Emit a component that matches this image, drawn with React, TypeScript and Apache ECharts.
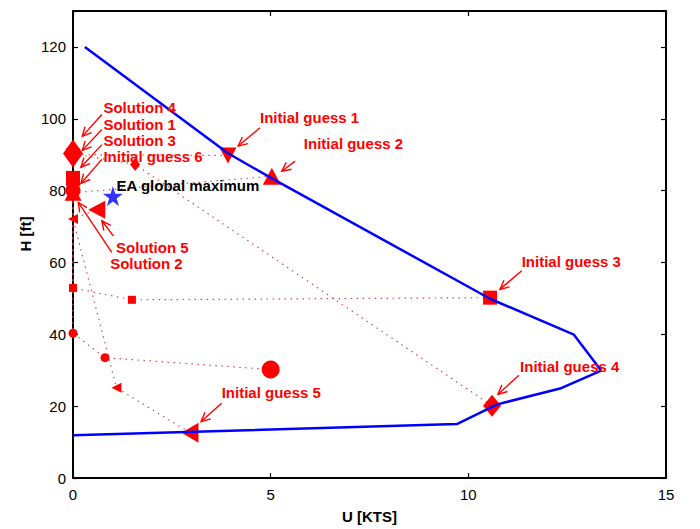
import React, { useEffect, useRef } from 'react';
import * as echarts from 'echarts';

// ---- data (U [KTS], H [ft]) ----
const boundary: number[][] = [
  [0.3, 120], [3.92, 90.4], [5.03, 83.4], [10.55, 49.9], [12.67, 39.9], [13.36, 29.9],
  [12.32, 24.9], [10.73, 20.5], [9.71, 15.0], [0, 11.9],
];

const initialGuesses: number[][] = [
  [3.92, 89.8], // 1 triangle down
  [5.03, 84.0], // 2 triangle up
  [10.55, 50.2], // 3 square
  [10.6, 20.1], // 4 diamond
  [2.96, 12.6], // 5 triangle left
  [5.0, 30.2], // 6 circle
];

const solutions: number[][] = [
  [0, 90.0], // 1 triangle down
  [0, 79.4], // 2 triangle up
  [0, 83.4], // 3 square
  [0, 90.3], // 4 diamond
  [0.6, 74.7], // 5 triangle left
  [0, 80.0], // 6 circle
];

const squareMid: number[][] = [[1.49, 49.6], [0, 52.9]];
const diamondMid: number[][] = [[1.57, 87.3]];
const circleMid: number[][] = [[0.81, 33.5], [0, 40.3]];
const triLeftMid: number[][] = [[1.1, 25.1], [0, 72.1]];

const eaMaximum: number[] = [1.01, 78.5];

const paths: number[][][] = [
  [initialGuesses[0], solutions[0]],
  [initialGuesses[1], solutions[1]],
  [initialGuesses[2], ...squareMid, solutions[2]],
  [initialGuesses[3], ...diamondMid, solutions[3]],
  [initialGuesses[4], ...triLeftMid, solutions[4]],
  [initialGuesses[5], ...circleMid, solutions[5]],
];

const xTicks = { min: 0, max: 15, interval: 5 };
const yTicks = { min: 0, max: 130, interval: 20 };

// annotations: text, label anchor (left-middle), arrow tail, arrow head
const labelTexts: string[] = [
  'Initial guess 1', 'Initial guess 2', 'Initial guess 3', 'Initial guess 4',
  'Initial guess 5', 'Solution 4', 'Solution 1', 'Solution 3', 'Initial guess 6',
  'Solution 5', 'Solution 2', 'EA global maximum',
];
const labelAnchors: number[][] = [
  [4.73, 100.3], [5.84, 93.1], [11.35, 60.2], [11.31, 31.1],
  [3.76, 23.8], [0.77, 103.1], [0.77, 98.5], [0.77, 94.0], [0.77, 89.4],
  [1.09, 64.3], [0.94, 59.8], [1.1, 81.3],
];
const arrowTails: (number[] | null)[] = [
  [4.73, 97.5], [5.62, 88.2], [11.35, 57.7], [11.28, 28.6],
  [3.76, 20.8], [0.73, 101.2], [0.73, 97.0], [0.73, 92.8], [0.73, 88.7],
  [1.02, 67.4], [0.98, 62.8], null,
];
const arrowHeads: (number[] | null)[] = [
  [4.18, 92.4], [5.28, 85.4], [10.8, 52.5], [10.75, 23.3],
  [3.24, 15.7], [0.235, 95.1], [0.235, 91.2], [0.2, 86.5], [0.2, 82.0],
  [0.73, 71.6], [0.134, 76.7], null,
];

// ---- styles ----
const FONT = '"Liberation Sans", Arial, Helvetica, sans-serif';
const RED = '#ff0000';
const BLUE = '#0000ff';
const TRI_UP = 'path://M5,0 L10,10 L0,10 Z';
const TRI_DOWN = 'path://M0,0 L10,0 L5,10 Z';
const TRI_LEFT = 'path://M0,5 L10,0 L10,10 Z';
const STAR = 'path://M50,0 L61,35 L98,35 L68,57 L79,91 L50,70 L21,91 L32,57 L2,35 L39,35 Z';

function marker(data: number[][], symbol: string, size: number | number[], z = 3) {
  return {
    type: 'scatter',
    data,
    symbol,
    symbolSize: size,
    itemStyle: { color: RED, opacity: 1 },
    z,
    clip: false,
    silent: true,
  };
}

function buildOption() {
  const dotted = paths.map((p) => ({
    type: 'line',
    data: p,
    showSymbol: false,
    symbol: 'none',
    lineStyle: { color: '#d94848', width: 1.2, type: [1.5, 4.5] },
    z: 1,
    clip: false,
    silent: true,
  }));

  const axisCommon = {
    axisLine: { show: true, onZero: false, lineStyle: { color: '#000', width: 2 } },
    axisTick: { show: true, inside: true, length: 5, lineStyle: { color: '#000', width: 1.2 } },
    splitLine: { show: false },
  };

  return {
    animation: false,
    backgroundColor: '#fff',
    grid: { left: 73, right: 34, top: 11, bottom: 49 },
    xAxis: [
      {
        type: 'value', position: 'bottom', ...xTicks, ...axisCommon,
        axisLabel: { color: '#000', fontSize: 15, fontFamily: FONT, margin: 9 },
        name: 'U [KTS]', nameLocation: 'middle', nameGap: 31,
        nameTextStyle: { color: '#000', fontSize: 15, fontWeight: 'bold', fontFamily: FONT },
      },
      {
        type: 'value', position: 'top', ...xTicks, ...axisCommon,
        axisLabel: { show: false },
      },
    ],
    yAxis: [
      {
        type: 'value', position: 'left', ...yTicks, ...axisCommon,
        axisLabel: {
          color: '#000', fontSize: 15, fontFamily: FONT, margin: 7,
          formatter: (v: number) => (v > 125 ? '' : String(v)),
        },
      },
      {
        type: 'value', position: 'right', ...yTicks, ...axisCommon,
        axisLabel: { show: false },
      },
    ],
    graphic: [
      {
        type: 'text', x: 25, y: 234, rotation: Math.PI / 2,
        style: {
          text: 'H [ft]', fill: '#000', font: `bold 15px ${FONT}`,
          textAlign: 'center', textVerticalAlign: 'middle', align: 'center', verticalAlign: 'middle',
        },
      },
    ],
    series: [
      ...dotted,
      // intermediates
      marker(squareMid, 'rect', 8),
      marker(diamondMid, 'diamond', [10, 13]),
      marker(circleMid, 'circle', 9),
      marker(triLeftMid, TRI_LEFT, [10, 10]),
      // initial guesses
      marker([initialGuesses[0]], TRI_DOWN, [17, 16]),
      marker([initialGuesses[1]], TRI_UP, [18, 17]),
      marker([initialGuesses[2]], 'rect', 14),
      marker([initialGuesses[3]], 'diamond', [18, 22]),
      marker([initialGuesses[4]], TRI_LEFT, [17, 20]),
      marker([initialGuesses[5]], 'circle', 18),
      // solutions
      marker([solutions[0]], TRI_DOWN, [14, 13]),
      marker([solutions[3]], 'diamond', [20, 28]),
      marker([solutions[5]], 'circle', 15),
      marker([solutions[1]], TRI_UP, [17, 16]),
      marker([solutions[2]], 'rect', [14, 15]),
      marker([solutions[4]], TRI_LEFT, [17, 18]),
      // boundary
      {
        type: 'line',
        data: boundary,
        showSymbol: false,
        symbol: 'none',
        lineStyle: { color: BLUE, width: 2.5 },
        z: 4,
        clip: false,
        silent: true,
      },
      {
        type: 'scatter',
        data: [eaMaximum],
        symbol: STAR,
        symbolSize: 20,
        itemStyle: { color: BLUE },
        z: 5,
        clip: false,
        silent: true,
      },
      {
        type: 'custom',
        data: labelAnchors.map((a) => [a[0], a[1]]),
        z: 6,
        clip: false,
        silent: true,
        renderItem: (params: any, api: any) => {
          const i = params.dataIndex;
          const text = labelTexts[i];
          const lp = api.coord(labelAnchors[i]);
          const color = text === 'EA global maximum' ? '#000' : RED;
          const children: any[] = [
            {
              type: 'text', x: lp[0], y: lp[1],
              style: {
                text, fill: color, font: `bold 15px ${FONT}`, lineHeight: 14,
                textAlign: 'left', textVerticalAlign: 'middle', align: 'left', verticalAlign: 'middle',
              },
            },
          ];
          const t = arrowTails[i];
          const h = arrowHeads[i];
          if (t && h) {
            const p0 = api.coord(t);
            const p1 = api.coord(h);
            const ang = Math.atan2(p1[1] - p0[1], p1[0] - p0[0]);
            const L = 10;
            const sp = 0.45;
            const a1 = [p1[0] - L * Math.cos(ang - sp), p1[1] - L * Math.sin(ang - sp)];
            const a2 = [p1[0] - L * Math.cos(ang + sp), p1[1] - L * Math.sin(ang + sp)];
            children.push(
              { type: 'line', shape: { x1: p0[0], y1: p0[1], x2: p1[0], y2: p1[1] }, style: { stroke: RED, lineWidth: 1.4 } },
              { type: 'polyline', shape: { points: [a1, p1, a2] }, style: { stroke: RED, lineWidth: 1.4, fill: null } },
            );
          }
          return { type: 'group', children };
        },
      },
    ],
  };
}

export default function App() {
  const ref = useRef<HTMLDivElement>(null);
  useEffect(() => {
    if (!ref.current) return;
    const chart = echarts.init(ref.current, null, { renderer: 'svg' });
    chart.setOption(buildOption() as any);
    return () => chart.dispose();
  }, []);
  return (
    <div
      ref={ref}
      style={{ position: 'fixed', left: 0, top: 0, width: 700, height: 529, background: '#fff' }}
    />
  );
}
